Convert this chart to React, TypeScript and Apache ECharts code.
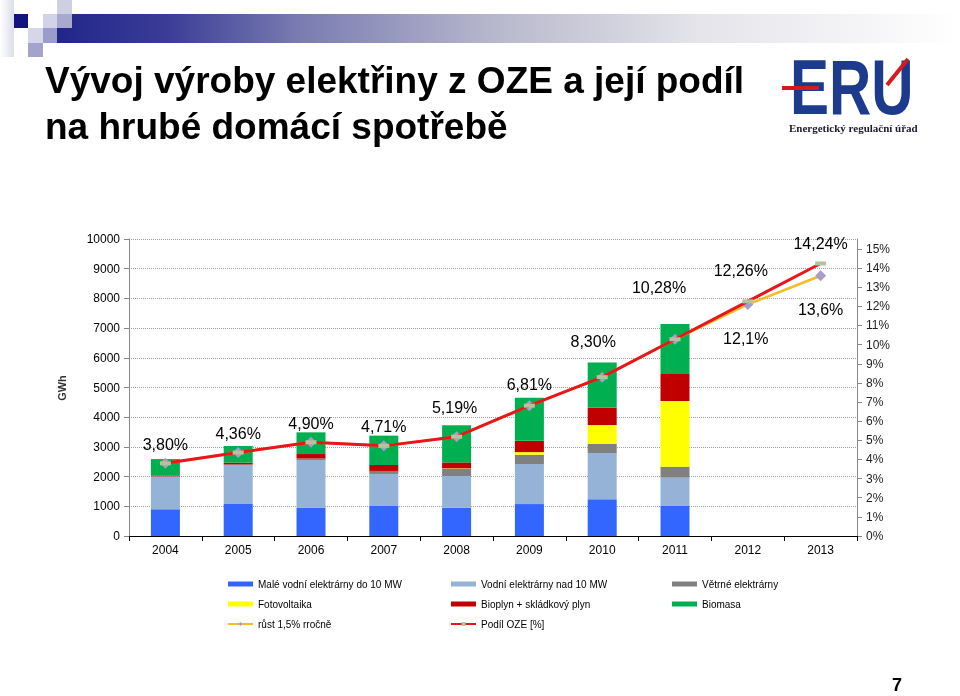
import React, { useEffect, useRef } from "react";
import * as echarts from "echarts";

const years = ["2004", "2005", "2006", "2007", "2008", "2009", "2010", "2011", "2012", "2013"];
const maleVodni = [900, 1080, 955, 1010, 955, 1075, 1235, 1010, null, null];
const vodniNad10 = [1100, 1310, 1605, 1080, 1065, 1350, 1560, 955, null, null];
const vetrne = [10, 20, 50, 100, 245, 310, 310, 370, null, null];
const fotovoltaika = [0, 0, 0, 0, 13, 90, 630, 2210, null, null];
const bioplyn = [30, 60, 150, 200, 200, 380, 580, 910, null, null];
const biomasa = [550, 560, 730, 990, 1250, 1450, 1530, 1680, null, null];
const podilOZE = [3.8, 4.36, 4.9, 4.71, 5.19, 6.81, 8.3, 10.28, 12.26, 14.24];
const rust15 = [3.8, 4.36, 4.9, 4.71, 5.19, 6.81, 8.3, 10.28, 12.1, 13.6];

const podilLabelOffsets = [[0, -19], [0, -19], [0, -19], [0, -19], [-2, -29], [0, -21], [-9, -36], [-16, -52], [-7, -31], [0, -20]];
const rustLabelOffsets = [null, null, null, null, null, null, null, null, [-2, 34], [0, 34]];

const FONT = "'Liberation Sans', Arial, sans-serif";

export default function App() {
  const ref = useRef<HTMLDivElement>(null);
  useEffect(() => {
    document.body.style.margin = "0";
    const chart = echarts.init(ref.current!, null, { renderer: "svg" });
    const barSeries = (name: string, data: (number | null)[], color: string) => ({
      name,
      type: "bar",
      stack: "oze",
      barWidth: 29,
      data,
      itemStyle: { color },
      z: 2,
    });
    const labelStyle = { fontSize: 16, color: "#000", fontFamily: FONT };
    const legendBase = {
      orient: "vertical",
      top: 573,
      itemWidth: 25,
      itemHeight: 5,
      itemGap: 8,
      selectedMode: false,
      textStyle: { fontSize: 10, color: "#000", fontFamily: FONT, lineHeight: 12 },
    };
    const option: any = {
      animation: false,
      textStyle: { fontFamily: FONT },
      grid: { left: 129, right: 103, top: 239, bottom: 160 },
      legend: [
        { ...legendBase, left: 222, data: [
          { name: "Malé vodní elektrárny do 10 MW", icon: "rect" },
          { name: "Fotovoltaika", icon: "rect" },
          { name: "růst 1,5% rročně" },
        ] },
        { ...legendBase, left: 445, data: [
          { name: "Vodní elektrárny nad 10 MW", icon: "rect" },
          { name: "Bioplyn + skládkový plyn", icon: "rect" },
          { name: "Podíl OZE [%]" },
        ] },
        { ...legendBase, left: 667, data: [
          { name: "Větrné elektrárny", icon: "rect" },
          { name: "Biomasa", icon: "rect" },
        ] },
      ],
      xAxis: {
        type: "category",
        data: years,
        axisLine: { lineStyle: { color: "#000", width: 1 } },
        axisTick: { show: true, alignWithLabel: false, length: 5, lineStyle: { color: "#000" } },
        axisLabel: { fontSize: 12, color: "#000", margin: 8 },
      },
      yAxis: [
        {
          type: "value",
          min: 0,
          max: 10000,
          interval: 1000,
          axisLine: { show: true, lineStyle: { color: "#888" } },
          axisTick: { show: true, length: 5, lineStyle: { color: "#888" } },
          axisLabel: { fontSize: 12, color: "#000", margin: 9, formatter: (v: number) => String(v) },
          splitLine: { show: true, lineStyle: { color: "#a0a0a0", type: "dotted", width: 1 } },
        },
        {
          type: "value",
          position: "right",
          min: 0,
          max: 15.52,
          interval: 1,
          axisLine: { show: true, lineStyle: { color: "#888" } },
          axisTick: { show: true, length: 5, lineStyle: { color: "#888" } },
          axisLabel: { fontSize: 12, color: "#222", margin: 9, showMaxLabel: false, formatter: "{value}%" },
          splitLine: { show: false },
        },
      ],
      series: [
        barSeries("Malé vodní elektrárny do 10 MW", maleVodni, "#3366ff"),
        barSeries("Vodní elektrárny nad 10 MW", vodniNad10, "#95b3d7"),
        barSeries("Větrné elektrárny", vetrne, "#808080"),
        barSeries("Fotovoltaika", fotovoltaika, "#ffff00"),
        barSeries("Bioplyn + skládkový plyn", bioplyn, "#c00000"),
        barSeries("Biomasa", biomasa, "#00b050"),
        {
          name: "růst 1,5% rročně",
          type: "line",
          yAxisIndex: 1,
          z: 3,
          symbol: "diamond",
          symbolSize: 11,
          itemStyle: { color: "#a89ccc" },
          lineStyle: { color: "#f4bc2a", width: 2.5 },
          data: rust15.map((v, i) => ({
            value: v,
            label: rustLabelOffsets[i]
              ? { show: true, position: "inside", offset: rustLabelOffsets[i], ...labelStyle, formatter: () => String(v).replace(".", ",") + "%" }
              : { show: false },
          })),
        },
        {
          name: "Podíl OZE [%]",
          type: "line",
          yAxisIndex: 1,
          z: 4,
          symbol: "rect",
          symbolSize: [11, 4],
          itemStyle: { color: "#b4c49a" },
          lineStyle: { color: "#e8161b", width: 3 },
          data: podilOZE.map((v, i) => ({
            value: v,
            label: { show: true, position: "inside", offset: podilLabelOffsets[i], ...labelStyle, formatter: () => v.toFixed(2).replace(".", ",") + "%" },
          })),
        },
      ],
      graphic: [
        {
          type: "rect",
          shape: { x: 0, y: 0, width: 14, height: 57 },
          style: { fill: new echarts.graphic.LinearGradient(0, 0, 1, 0, [
            { offset: 0, color: "#ffffff" },
            { offset: 1, color: "#dcdcee" },
          ]) },
        },
        {
          type: "rect",
          shape: { x: 57, y: 14, width: 903, height: 29 },
          style: { fill: new echarts.graphic.LinearGradient(0, 0, 1, 0, [
            { offset: 0, color: "#22268a" },
            { offset: 0.12, color: "#3a3c96" },
            { offset: 0.27, color: "#7a7cb2" },
            { offset: 0.49, color: "#b9b9cd" },
            { offset: 0.71, color: "#e4e4ea" },
            { offset: 1, color: "#ffffff" },
          ]) },
        },
        { type: "rect", shape: { x: 14, y: 14, width: 14, height: 14 }, style: { fill: "#14147e" } },
        { type: "rect", shape: { x: 43, y: 14, width: 14, height: 14 }, style: { fill: "#d2d2e8" } },
        { type: "rect", shape: { x: 57, y: 0, width: 15, height: 14 }, style: { fill: "#cfcfe4" } },
        { type: "rect", shape: { x: 57, y: 14, width: 15, height: 14 }, style: { fill: "#a9a9d0" } },
        { type: "rect", shape: { x: 28, y: 28, width: 15, height: 15 }, style: { fill: "#d6d6ea" } },
        { type: "rect", shape: { x: 43, y: 28, width: 14, height: 15 }, style: { fill: "#9c9ccc" } },
        { type: "rect", shape: { x: 28, y: 43, width: 15, height: 14 }, style: { fill: "#a3a3cc" } },
        {
          type: "text",
          left: 45,
          top: 57,
          style: { text: "Vývoj výroby elektřiny z OZE a její podíl\nna hrubé domácí spotřebě", fontSize: 37, fontWeight: "bold", lineHeight: 46, fill: "#000", fontFamily: FONT },
        },
        {
          type: "text",
          x: 790,
          y: 125,
          scaleX: 0.76,
          style: { text: "ERU", fontSize: 77, fontWeight: "bold", fill: "#1d3b8c", fontFamily: FONT, verticalAlign: "bottom", align: "left" },
        },
        { type: "rect", shape: { x: 782, y: 86, width: 37, height: 4 }, style: { fill: "#d71920" } },
        { type: "line", shape: { x1: 887, y1: 85, x2: 908, y2: 59 }, style: { stroke: "#d71920", lineWidth: 4 } },
        {
          type: "text",
          x: 789,
          y: 128,
          style: { text: "Energetický regulační úřad", fontSize: 11, fontWeight: "bold", fill: "#1a1a2e", fontFamily: "'Liberation Serif', 'Times New Roman', serif", verticalAlign: "middle" },
        },
        {
          type: "text",
          x: 62,
          y: 388,
          rotation: Math.PI / 2,
          style: { text: "GWh", fontSize: 11, fontWeight: "bold", fill: "#333", fontFamily: FONT, align: "center", verticalAlign: "middle" },
        },
        {
          type: "text",
          x: 897,
          y: 685,
          style: { text: "7", fontSize: 18, fontWeight: "bold", fill: "#000", fontFamily: FONT, align: "center", verticalAlign: "middle" },
        },
      ],
    };
    chart.setOption(option);
    return () => chart.dispose();
  }, []);
  return <div ref={ref} style={{ position: "fixed", left: 0, top: 0, width: 960, height: 696 }} />;
}
